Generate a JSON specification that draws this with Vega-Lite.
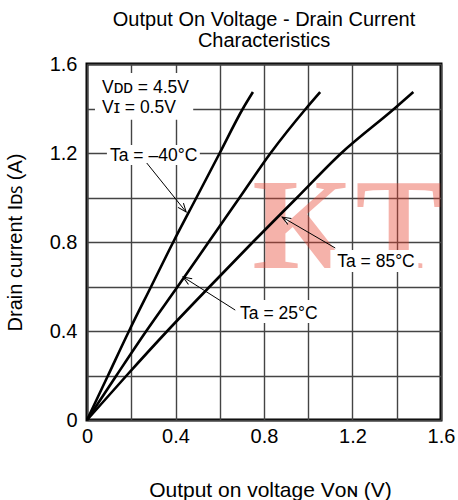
{
  "$schema": "https://vega.github.io/schema/vega-lite/v6.json",
  "autosize": "none",
  "width": 354,
  "height": 356,
  "padding": {"left": 87, "top": 64, "right": 17, "bottom": 80},
  "background": "white",
  "config": {
    "view": {"stroke": "black", "strokeWidth": 3},
    "font": "Liberation Sans"
  },
  "title": {
    "text": ["Output On Voltage - Drain Current", "Characteristics"],
    "font": "Liberation Sans",
    "fontSize": 20,
    "fontWeight": "normal",
    "lineHeight": 21,
    "anchor": "middle",
    "offset": 3,
    "color": "black"
  },
  "datasets": {
    "curves": [
      {"t": "-40", "v": 0, "i": 0},
      {"t": "-40", "v": 0.095, "i": 0.2},
      {"t": "-40", "v": 0.19, "i": 0.4},
      {"t": "-40", "v": 0.29, "i": 0.6},
      {"t": "-40", "v": 0.39, "i": 0.8},
      {"t": "-40", "v": 0.495, "i": 1.0},
      {"t": "-40", "v": 0.6, "i": 1.2},
      {"t": "-40", "v": 0.705, "i": 1.4},
      {"t": "-40", "v": 0.75, "i": 1.474},
      {"t": "25", "v": 0, "i": 0},
      {"t": "25", "v": 0.133, "i": 0.2},
      {"t": "25", "v": 0.268, "i": 0.4},
      {"t": "25", "v": 0.41, "i": 0.6},
      {"t": "25", "v": 0.55, "i": 0.8},
      {"t": "25", "v": 0.69, "i": 1.0},
      {"t": "25", "v": 0.83, "i": 1.2},
      {"t": "25", "v": 0.99, "i": 1.4},
      {"t": "25", "v": 1.054, "i": 1.474},
      {"t": "85", "v": 0, "i": 0},
      {"t": "85", "v": 0.179, "i": 0.2},
      {"t": "85", "v": 0.363, "i": 0.4},
      {"t": "85", "v": 0.555, "i": 0.6},
      {"t": "85", "v": 0.75, "i": 0.8},
      {"t": "85", "v": 0.95, "i": 1.0},
      {"t": "85", "v": 1.15, "i": 1.2},
      {"t": "85", "v": 1.39, "i": 1.4},
      {"t": "85", "v": 1.475, "i": 1.474}
    ],
    "labels": [
      {"label": "Vᴅᴅ = 4.5V", "x": 0.068, "y": 1.47},
      {"label": "Vɪ = 0.5V", "x": 0.068, "y": 1.38},
      {"label": "Ta = –40°C", "x": 0.104, "y": 1.164},
      {"label": "Ta = 85°C", "x": 1.131, "y": 0.688},
      {"label": "Ta = 25°C", "x": 0.692, "y": 0.454}
    ],
    "boxes": [
      {"x": 0.036, "x2": 0.48, "y": 1.35, "y2": 1.56},
      {"x": 0.09, "x2": 0.51, "y": 1.146, "y2": 1.236},
      {"x": 1.10, "x2": 1.498, "y": 0.665, "y2": 0.764},
      {"x": 0.67, "x2": 1.06, "y": 0.436, "y2": 0.539}
    ],
    "arrows": [
      {"name": "-40", "x": 0.27, "y": 1.155, "x2": 0.448, "y2": 0.935},
      {"name": "85", "x": 1.122, "y": 0.773, "x2": 0.882, "y2": 0.912},
      {"name": "25", "x": 0.67, "y": 0.494, "x2": 0.434, "y2": 0.643}
    ],
    "watermark": [
      {"ch": "K", "x": 0.747, "y": 0.683},
      {"ch": "T", "x": 1.213, "y": 0.683}
    ]
  },
  "layer": [
    {
      "data": {"name": "watermark"},
      "mark": {"type": "text", "font": "Liberation Serif", "fontWeight": "bold", "fontSize": 130, "align": "left", "baseline": "alphabetic", "color": "#e8402e", "opacity": 0.4},
      "encoding": {
        "x": {"field": "x", "type": "quantitative", "scale": {"domain": [0, 1.6], "nice": false}},
        "y": {"field": "y", "type": "quantitative", "scale": {"domain": [0, 1.6], "nice": false}},
        "text": {"field": "ch"}
      }
    },
    {
      "data": {"name": "boxes"},
      "mark": {"type": "rect", "color": "white"},
      "encoding": {
        "x": {"field": "x", "type": "quantitative"},
        "x2": {"field": "x2"},
        "y": {"field": "y", "type": "quantitative"},
        "y2": {"field": "y2"}
      }
    },
    {
      "data": {"name": "labels"},
      "mark": {"type": "text", "font": "Liberation Sans", "fontSize": 17.5, "align": "left", "baseline": "alphabetic", "color": "black"},
      "encoding": {
        "x": {"field": "x", "type": "quantitative"},
        "y": {"field": "y", "type": "quantitative"},
        "text": {"field": "label"}
      }
    },
    {
      "data": {"name": "arrows"},
      "mark": {"type": "rule", "color": "black", "strokeWidth": 1},
      "encoding": {
        "x": {"field": "x", "type": "quantitative"},
        "x2": {"field": "x2"},
        "y": {"field": "y", "type": "quantitative"},
        "y2": {"field": "y2"}
      }
    },
    {
      "data": {"name": "arrows"},
      "transform": [{"filter": "datum.name == '-40'"}],
      "mark": {"type": "point", "shape": "M-0.4,1L0,0L0.4,1", "size": 300, "filled": false, "stroke": "black", "strokeWidth": 1, "opacity": 1, "angle": 141.5},
      "encoding": {
        "x": {"field": "x2", "type": "quantitative"},
        "y": {"field": "y2", "type": "quantitative"}
      }
    },
    {
      "data": {"name": "arrows"},
      "transform": [{"filter": "datum.name == '85'"}],
      "mark": {"type": "point", "shape": "M-0.4,1L0,0L0.4,1", "size": 300, "filled": false, "stroke": "black", "strokeWidth": 1, "opacity": 1, "angle": 300.3},
      "encoding": {
        "x": {"field": "x2", "type": "quantitative"},
        "y": {"field": "y2", "type": "quantitative"}
      }
    },
    {
      "data": {"name": "arrows"},
      "transform": [{"filter": "datum.name == '25'"}],
      "mark": {"type": "point", "shape": "M-0.4,1L0,0L0.4,1", "size": 300, "filled": false, "stroke": "black", "strokeWidth": 1, "opacity": 1, "angle": 302.4},
      "encoding": {
        "x": {"field": "x2", "type": "quantitative"},
        "y": {"field": "y2", "type": "quantitative"}
      }
    },
    {
      "data": {"name": "curves"},
      "mark": {"type": "line", "color": "black", "strokeWidth": 2.6, "interpolate": "monotone"},
      "encoding": {
        "x": {
          "field": "v", "type": "quantitative",
          "scale": {"domain": [0, 1.6], "nice": false},
          "axis": {
            "title": "Output on voltage  Vᴏɴ (V)",
            "titleFont": "Liberation Sans", "titleFontSize": 21, "titleFontWeight": "normal", "titleColor": "black",
            "titleX": 183, "titleY": 59, "titleBaseline": "top",
            "values": [0, 0.2, 0.4, 0.6, 0.8, 1.0, 1.2, 1.4, 1.6],
            "format": ".1~f",
            "labelExpr": "round(datum.value * 5) % 2 == 0 ? datum.label : ''",
            "labelFont": "Liberation Sans", "labelFontSize": 20, "labelColor": "black", "labelPadding": 6,
            "labelFlush": false, "labelOverlap": false,
            "ticks": false, "domain": false,
            "grid": true, "gridColor": "#444", "gridWidth": 1.4, "gridOpacity": 1
          }
        },
        "y": {
          "field": "i", "type": "quantitative",
          "scale": {"domain": [0, 1.6], "nice": false},
          "axis": {
            "title": "Drain current  Iᴅꜱ (A)",
            "titleFont": "Liberation Sans", "titleFontSize": 20, "titleFontWeight": "normal", "titleColor": "black",
            "titleX": -62, "titleY": 178, "titleAngle": 270, "titleBaseline": "bottom", "titleAlign": "center",
            "values": [0, 0.2, 0.4, 0.6, 0.8, 1.0, 1.2, 1.4, 1.6],
            "format": ".1~f",
            "labelExpr": "round(datum.value * 5) % 2 == 0 ? datum.label : ''",
            "labelFont": "Liberation Sans", "labelFontSize": 20, "labelColor": "black", "labelPadding": 10,
            "labelFlush": false, "labelOverlap": false,
            "ticks": false, "domain": false,
            "grid": true, "gridColor": "#444", "gridWidth": 1.4, "gridOpacity": 1
          }
        },
        "detail": {"field": "t"}
      }
    }
  ]
}
